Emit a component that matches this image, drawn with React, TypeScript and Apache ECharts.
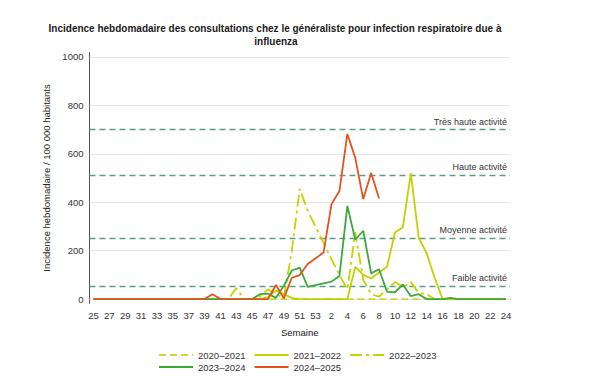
import React, { useEffect, useRef } from "react";
import * as echarts from "echarts";

const FONT = "'Liberation Sans', Arial, sans-serif";

const weeks = [
  "25","26","27","28","29","30","31","32","33","34","35","36","37","38","39","40","41","42","43","44",
  "45","46","47","48","49","50","51","52","53","1","2","3","4","5","6","7","8","9","10","11","12",
  "13","14","15","16","17","18","19","20","21","22","23","24",
];

const yTicks = [0, 200, 400, 600, 800, 1000];

const thresholdValues = [702, 513, 253, 54];
const thresholdLabels = ["Très haute activité", "Haute activité", "Moyenne activité", "Faible activité"];

const seasonNames = ["2020–2021", "2021–2022", "2022–2023", "2023–2024", "2024–2025"];

// weeks 25..53, 1..24
const s2020 = [
  0,0,0,0,0,0,0,0,0,0,0,0,0,0,0,0,0,0,0,0,
  0,0,0,0,0,0,0,0,0,0,0,0,0,0,0,0,0,0,0,0,0,
  0,0,0,0,0,0,0,0,0,0,0,0,
];
const s2021 = [
  0,0,0,0,0,0,0,0,0,0,0,0,0,0,0,0,0,0,0,0,
  0,0,8,35,20,5,0,0,null,0,0,0,0,133,100,85,110,133,275,297,520,
  252,189,88,0,0,0,0,0,0,0,0,0,
];
const s2022 = [
  0,0,0,0,0,0,0,0,0,0,0,0,0,0,0,0,0,0,45,0,
  0,10,40,20,5,200,455,365,null,231,165,100,40,275,80,20,10,40,70,50,70,
  25,20,0,0,0,0,0,0,0,0,0,0,
];
const s2023 = [
  0,0,0,0,0,0,0,0,0,0,0,0,0,0,0,0,0,0,0,0,
  0,20,22,5,55,118,130,50,null,65,72,95,385,245,282,106,123,30,28,60,12,
  20,0,0,0,5,0,0,0,0,0,0,0,
];
const s2024 = [
  0,0,0,0,0,0,0,0,0,0,0,0,0,0,0,20,0,0,0,0,
  0,0,0,58,3,88,99,145,null,192,392,446,682,583,413,521,415,null,null,null,null,
  null,null,null,null,null,null,null,null,null,null,null,null,
];
const labelledIdx = [35, 36];

const seasonData = [s2020, s2021, s2022, s2023, s2024];
const seasonColors = ["#c9d93a", "#c2d100", "#c4d400", "#3caa3a", "#e4521e"];
const seasonDash: any[] = [[7, 4], "solid", [12, 4, 3, 4], "solid", "solid"];

export default function App() {
  const ref = useRef<HTMLDivElement>(null);
  useEffect(() => {
    if (!ref.current) return;
    const chart = echarts.init(ref.current, null, { renderer: "svg" });

    const gridLines = yTicks.map((v) => ({
      yAxis: v,
      lineStyle: { color: "#e6e6e6", type: "solid", width: 1 },
      label: { show: false },
    }));
    const thrLines = thresholdValues.map((v, i) => ({
      yAxis: v,
      lineStyle: { color: "#5c9e80", type: [6, 4], width: 1.4 },
      label: {
        show: true,
        formatter: thresholdLabels[i],
        position: "insideEndTop",
        distance: 3,
        color: "#333",
        fontSize: 9,
        fontFamily: FONT,
      },
    }));

    const series: any[] = [
      {
        type: "line",
        name: "_bg",
        data: [],
        silent: true,
        z: 1,
        markLine: {
          silent: true,
          symbol: "none",
          z: 1,
          animation: false,
          data: [...gridLines, ...thrLines],
        },
      },
    ];
    seasonNames.forEach((name, si) => {
      const raw = seasonData[si];
      const data = raw.map((v, i) =>
        si === 4 && labelledIdx.includes(i)
          ? {
              value: v,
              label: {
                show: true,
                formatter: "{c}",
                position: "right",
                distance: 2,
                offset: [0, -6],
                fontSize: 8.5,
                fontWeight: "bold",
                color: "#222",
                fontFamily: FONT,
              },
            }
          : v
      );
      series.push({
        type: "line",
        name,
        data,
        symbol: "none",
        connectNulls: true,
        z: 2 + si,
        lineStyle: { color: seasonColors[si], width: 1.8, type: seasonDash[si] },
        itemStyle: { color: seasonColors[si] },
      });
    });

    const legendBase = {
      left: 158,
      itemWidth: 34,
      itemHeight: 10,
      itemGap: 8,
      padding: 0,
      itemStyle: { opacity: 0 },
      textStyle: { fontSize: 9.5, color: "#333", fontFamily: FONT },
    };

    chart.setOption({
      animation: false,
      textStyle: { fontFamily: FONT },
      graphic: [
        {
          type: "text",
          x: 275,
          y: 23,
          style: {
            text: "Incidence hebdomadaire des consultations chez le généraliste pour infection respiratoire due à",
            textAlign: "center",
            fontSize: 10,
            fontWeight: "bold",
            fill: "#1a1a1a",
            fontFamily: FONT,
          },
        },
        {
          type: "text",
          x: 276,
          y: 36,
          style: {
            text: "influenza",
            textAlign: "center",
            fontSize: 10,
            fontWeight: "bold",
            fill: "#1a1a1a",
            fontFamily: FONT,
          },
        },
      ],
      legend: [
        { ...legendBase, top: 350, data: seasonNames.slice(0, 3) },
        { ...legendBase, top: 362, data: seasonNames.slice(3) },
      ],
      grid: { left: 89.5, right: 90, top: 52.6, bottom: 83.6, containLabel: false },
      xAxis: {
        type: "category",
        data: weeks,
        boundaryGap: true,
        axisLine: { lineStyle: { color: "#555", width: 1 } },
        axisTick: { alignWithLabel: true, interval: 1, length: 4, lineStyle: { color: "#555" } },
        axisLabel: { interval: 1, fontSize: 9.5, color: "#333", margin: 7, fontFamily: FONT },
        name: "Semaine",
        nameLocation: "middle",
        nameGap: 24,
        nameTextStyle: { fontSize: 9.5, color: "#222", fontFamily: FONT },
      },
      yAxis: {
        type: "value",
        min: -18,
        max: 1018,
        splitLine: { show: false },
        axisLine: { show: true, lineStyle: { color: "#555", width: 1 } },
        axisTick: { show: false },
        axisLabel: {
          customValues: yTicks,
          formatter: (v: number) => String(v),
          fontSize: 9.5,
          color: "#333",
          margin: 6,
          fontFamily: FONT,
        },
        name: "Incidence hebdomadaire / 100 000 habitants",
        nameLocation: "middle",
        nameGap: 36,
        nameTextStyle: { fontSize: 9.5, color: "#222", fontFamily: FONT },
      },
      series,
    });
    return () => chart.dispose();
  }, []);
  return (
    <div
      ref={ref}
      style={{ position: "absolute", left: 0, top: 0, width: 600, height: 387 }}
    />
  );
}
